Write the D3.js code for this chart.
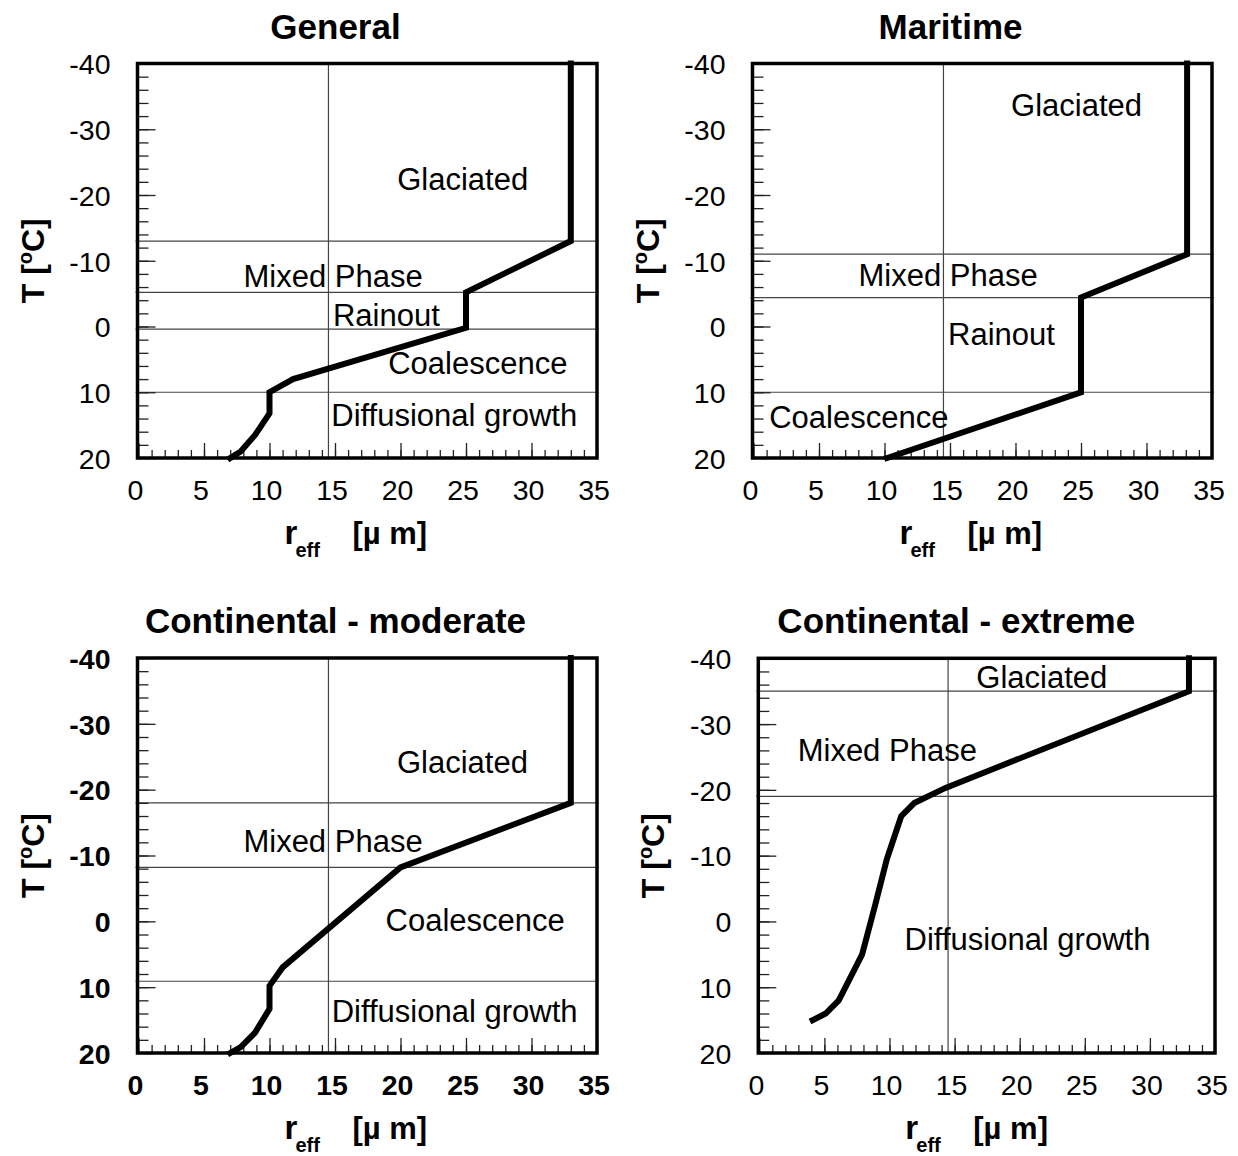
<!DOCTYPE html>
<html>
<head>
<meta charset="utf-8">
<script src="https://cdn.jsdelivr.net/npm/d3@7"></script>
<style>
  body { margin: 0; background: #fff; }
  text { font-family: "Liberation Sans", Arial, Helvetica, sans-serif; fill: #000; }
</style>
</head>
<body>
<svg id="chart" width="1238" height="1156"></svg>
<script>
// ---- data ---------------------------------------------------------------
const panelTitles = ["General", "Maritime", "Continental - moderate", "Continental - extreme"];

// effective radius (µm) against temperature (°C), warm base to cold top
const generalR  = [7.0, 7.8, 8.9, 10.0, 10.0, 11.8, 25.0, 25.0, 33.0, 33.0];
const generalT  = [20, 19, 16.5, 13.2, 10, 8, 0.2, -5.2, -13, -40];
const maritimeR = [10.2, 25.0, 25.0, 33.1, 33.1];
const maritimeT = [20, 10, -4.4, -11, -40];
const moderateR = [7.0, 7.8, 8.9, 10.0, 10.0, 11.0, 20.0, 33.0, 33.0];
const moderateT = [20, 19.1, 16.9, 13.3, 9.8, 7.0, -8.2, -18, -40];
const extremeR  = [4.1, 5.1, 6.1, 7.9, 8.9, 9.8, 10.9, 11.9, 14.3, 33.0, 33.0];
const extremeT  = [15, 14, 12, 5, -2.5, -9.5, -16, -18, -20.3, -35, -40];

// temperatures separating the microphysical zones (°C)
const generalBounds  = [-13, -5.2, 0.4, 10];
const maritimeBounds = [-11, -4.4, 10];
const moderateBounds = [-18, -8.2, 9.1];
const extremeBounds  = [-35, -19];
const refRadius = 14.5;   // vertical reference radius (µm)

// zone names and where they sit (r in µm, T in °C)
const generalZones  = ["Glaciated", "Mixed Phase", "Rainout", "Coalescence", "Diffusional growth"];
const generalZoneR  = [24.75, 14.86, 18.92, 25.9, 24.1];
const generalZoneT  = [-20.7, -6.0, -0.1, 7.2, 15.2];
const maritimeZones = ["Glaciated", "Mixed Phase", "Rainout", "Coalescence"];
const maritimeZoneR = [24.66, 14.86, 18.93, 8.04];
const maritimeZoneT = [-32.0, -6.1, 2.75, 15.4];
const moderateZones = ["Glaciated", "Mixed Phase", "Coalescence", "Diffusional growth"];
const moderateZoneR = [24.73, 14.85, 25.7, 24.13];
const moderateZoneT = [-22.6, -10.5, 1.5, 15.3];
const extremeZones  = ["Glaciated", "Mixed Phase", "Diffusional growth"];
const extremeZoneR  = [21.7, 9.83, 20.6];
const extremeZoneT  = [-35.5, -24.4, 4.3];

// axes
const xTickValues = [0, 5, 10, 15, 20, 25, 30, 35];
const yTickValues = [-40, -30, -20, -10, 0, 10, 20];
const xDomain = [0, 35];
const yDomain = [-40, 20];

// ---- layout ---------------------------------------------------------------
const panels = [
  { title: panelTitles[0], r: generalR,  t: generalT,  bounds: generalBounds,
    zones: generalZones,  zr: generalZoneR,  zt: generalZoneT,
    box: { x0: 137.5, x1: 597, y0: 63.5, y1: 458 }, boldTicks: false },
  { title: panelTitles[1], r: maritimeR, t: maritimeT, bounds: maritimeBounds,
    zones: maritimeZones, zr: maritimeZoneR, zt: maritimeZoneT,
    box: { x0: 752.5, x1: 1212, y0: 63.5, y1: 458 }, boldTicks: false },
  { title: panelTitles[2], r: moderateR, t: moderateT, bounds: moderateBounds,
    zones: moderateZones, zr: moderateZoneR, zt: moderateZoneT,
    box: { x0: 137.5, x1: 597, y0: 658, y1: 1053 }, boldTicks: true },
  { title: panelTitles[3], r: extremeR,  t: extremeT,  bounds: extremeBounds,
    zones: extremeZones,  zr: extremeZoneR,  zt: extremeZoneT,
    box: { x0: 758.3, x1: 1215, y0: 658.3, y1: 1053 }, boldTicks: false }
];

const svg = d3.select("#chart");

panels.forEach(p => {
  const b = p.box;
  const x = d3.scaleLinear().domain(xDomain).range([b.x0 + 1, b.x1]);
  const y = d3.scaleLinear().domain(yDomain).range([b.y0, b.y1]);
  const g = svg.append("g");

  // zone boundaries and reference radius
  g.selectAll("line.bound").data(p.bounds).join("line")
    .attr("class", "bound")
    .attr("x1", b.x0 - 2).attr("x2", b.x1 + 2)
    .attr("y1", d => y(d)).attr("y2", d => y(d))
    .attr("stroke", "#444").attr("stroke-width", 1.2);
  g.append("line")
    .attr("x1", x(refRadius)).attr("x2", x(refRadius))
    .attr("y1", b.y0).attr("y2", b.y1)
    .attr("stroke", "#444").attr("stroke-width", 1.2);

  // minor ticks
  const xMinor = d3.axisBottom(x).tickValues(d3.range(1, 35, 1)).tickSize(-8).tickFormat("");
  const yMinor = d3.axisLeft(y).tickValues(d3.range(-38, 20, 2)).tickSize(-11).tickFormat("");
  // major ticks with labels
  const xMajor = d3.axisBottom(x).tickValues(xTickValues).tickSize(-15).tickFormat(d3.format("d"));
  const yMajor = d3.axisLeft(y).tickValues(yTickValues).tickSize(-18)
    .tickFormat(d => (d < 0 ? "-" + Math.abs(d) : String(d)));

  const axes = [
    g.append("g").attr("transform", `translate(0,${b.y1})`).call(xMinor),
    g.append("g").attr("transform", `translate(${b.x0},0)`).call(yMinor),
    g.append("g").attr("transform", `translate(0,${b.y1})`).call(xMajor),
    g.append("g").attr("transform", `translate(${b.x0},0)`).call(yMajor)
  ];
  axes.forEach(a => {
    a.attr("font-family", null).attr("font-size", null);
    a.select(".domain").remove();
    a.selectAll(".tick line").attr("stroke", "#222").attr("stroke-width", 1.3);
  });
  const weight = p.boldTicks ? "bold" : "normal";
  axes[2].selectAll(".tick text")
    .attr("y", 42).attr("dy", null).attr("x", -3.5)
    .attr("font-size", "28.5px").attr("font-weight", weight)
    .attr("fill", "#000").attr("text-anchor", "middle");
  axes[3].selectAll(".tick text")
    .attr("x", -27).attr("dy", "0.36em")
    .attr("font-size", "28.5px").attr("font-weight", weight)
    .attr("fill", "#000").attr("text-anchor", "end");

  // frame
  g.append("rect")
    .attr("x", b.x0).attr("y", b.y0)
    .attr("width", b.x1 - b.x0).attr("height", b.y1 - b.y0)
    .attr("fill", "none").attr("stroke", "#000").attr("stroke-width", 3.5);

  // profile
  const pts = p.r.map((r, i) => [r, p.t[i]]);
  g.append("path")
    .datum(pts)
    .attr("d", d3.line().x(d => x(d[0])).y(d => y(d[1])))
    .attr("fill", "none").attr("stroke", "#000")
    .attr("stroke-width", 6).attr("stroke-linejoin", "miter").attr("stroke-linecap", "square");

  // zone names
  g.selectAll("text.zone").data(p.zones).join("text")
    .attr("class", "zone")
    .attr("x", (d, i) => x(p.zr[i]))
    .attr("y", (d, i) => y(p.zt[i]))
    .attr("text-anchor", "middle")
    .attr("font-size", "31px")
    .text(d => d);

  // title
  svg.append("text")
    .attr("x", b.x0 + 198).attr("y", b.y0 - 25)
    .attr("text-anchor", "middle")
    .attr("font-size", "35px").attr("font-weight", "bold")
    .text(p.title);

  // y-axis label: T [°C]
  const yl = svg.append("text")
    .attr("transform", `translate(${b.x0 - 94},${(b.y0 + b.y1) / 2}) rotate(-90)`)
    .attr("text-anchor", "middle")
    .attr("font-size", "32px").attr("font-weight", "bold");
  yl.append("tspan").text("T [");
  yl.append("tspan").attr("font-size", "20px").attr("dy", "-12").text("o");
  yl.append("tspan").attr("dy", "12").text("C]");

  // x-axis label: r_eff [µ m]
  svg.append("text")
    .attr("x", b.x0 + 147).attr("y", b.y1 + 86)
    .attr("font-size", "33px").attr("font-weight", "bold").text("r");
  svg.append("text")
    .attr("x", b.x0 + 158).attr("y", b.y1 + 99)
    .attr("font-size", "20px").attr("font-weight", "bold").text("eff");
  svg.append("text")
    .attr("x", b.x0 + 215).attr("y", b.y1 + 86)
    .attr("font-size", "31px").attr("font-weight", "bold").text("[\u00b5 m]");
});
</script>
</body>
</html>
